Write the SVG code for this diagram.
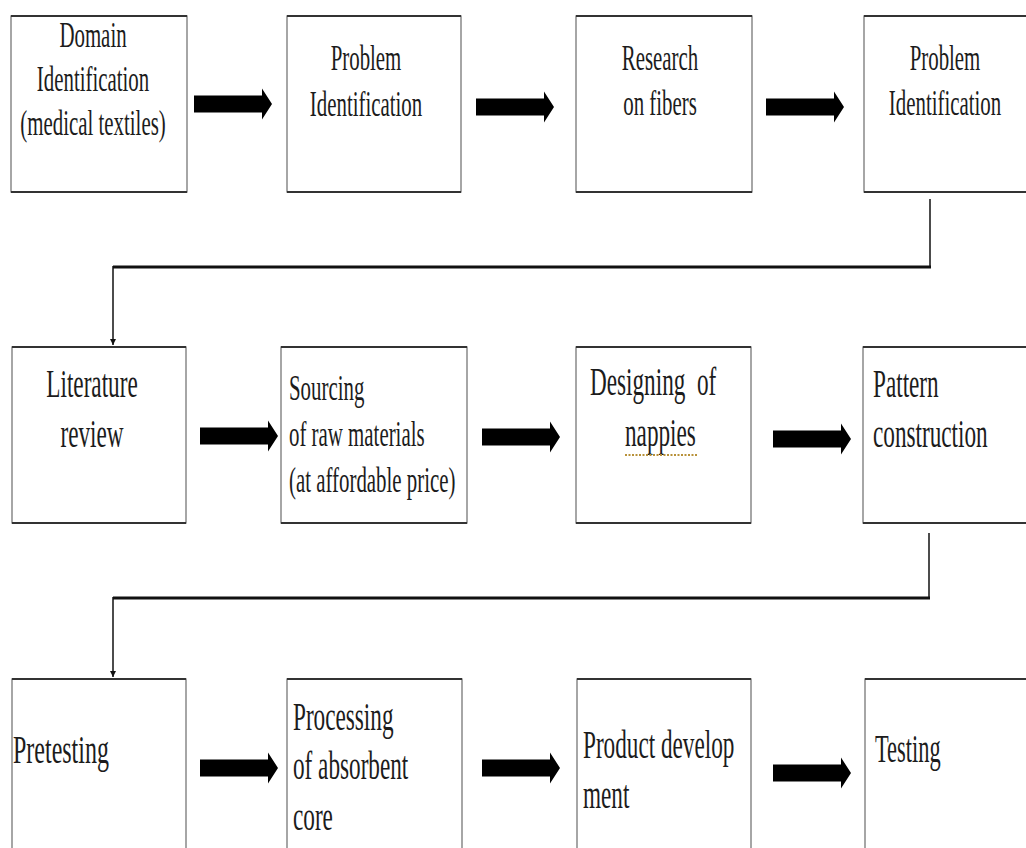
<svg xmlns="http://www.w3.org/2000/svg" width="1026" height="848" viewBox="0 0 1026 848">
<style>
.box{fill:#fff;stroke:#777;stroke-width:1.3}
.edge{stroke:#333;stroke-width:2}
.t{font-family:"Liberation Serif","Times New Roman",serif;fill:#1c1c1c}
.s36{font-size:36px}
.s40{font-size:40px}
.c{text-anchor:middle}
.blk{fill:#000}
.ln{stroke:#111;fill:none}
</style>
<defs>
<path id="blk" d="M0,-8.5 H68 V-15.5 L78,0 L68,15.5 V8.5 H0 Z"/>
<marker id="ah" viewBox="0 0 10 10" refX="10" refY="5" markerWidth="6" markerHeight="9" markerUnits="userSpaceOnUse" orient="auto"><path d="M0,0 L10,5 L0,10 Z" fill="#111"/></marker>
</defs>
<rect width="1026" height="848" fill="#fff"/>

<g id="n1">
<rect class="box" x="11" y="16" width="176" height="176"/>
<line class="edge" x1="11" y1="16" x2="187" y2="16"/><line class="edge" x1="11" y1="192" x2="187" y2="192"/>
<text class="t s36 c" transform="translate(93,0) scale(0.58,1)"><tspan x="0" y="47">Domain</tspan><tspan x="0" y="91">Identification</tspan><tspan x="0" y="135">(medical textiles)</tspan></text>
</g>
<g id="n2">
<rect class="box" x="287" y="16" width="174" height="176"/>
<line class="edge" x1="287" y1="16" x2="461" y2="16"/><line class="edge" x1="287" y1="192" x2="461" y2="192"/>
<text class="t s36 c" transform="translate(366,0) scale(0.58,1)"><tspan x="0" y="70">Problem</tspan><tspan x="0" y="116">Identification</tspan></text>
</g>
<g id="n3">
<rect class="box" x="576" y="16" width="176" height="176"/>
<line class="edge" x1="576" y1="16" x2="752" y2="16"/><line class="edge" x1="576" y1="192" x2="752" y2="192"/>
<text class="t s36 c" transform="translate(660,0) scale(0.58,1)"><tspan x="0" y="70">Research</tspan><tspan x="0" y="115">on fibers</tspan></text>
</g>
<g id="n4">
<rect class="box" x="864" y="16" width="170" height="176"/>
<line class="edge" x1="864" y1="16" x2="1026" y2="16"/><line class="edge" x1="864" y1="192" x2="1026" y2="192"/>
<text class="t s36 c" transform="translate(945,0) scale(0.58,1)"><tspan x="0" y="70">Problem</tspan><tspan x="0" y="115">Identification</tspan></text>
</g>

<g id="n5">
<rect class="box" x="12" y="347" width="174" height="176"/>
<line class="edge" x1="12" y1="347" x2="186" y2="347"/><line class="edge" x1="12" y1="523" x2="186" y2="523"/>
<text class="t s40 c" transform="translate(92,0) scale(0.58,1)"><tspan x="0" y="397">Literature</tspan><tspan x="0" y="447">review</tspan></text>
</g>
<g id="n6">
<rect class="box" x="281" y="347" width="186" height="176"/>
<line class="edge" x1="281" y1="347" x2="467" y2="347"/><line class="edge" x1="281" y1="523" x2="467" y2="523"/>
<text class="t s36" transform="translate(289,0) scale(0.58,1)"><tspan x="0" y="400">Sourcing</tspan><tspan x="0" y="446">of raw materials</tspan><tspan x="0" y="492">(at affordable price)</tspan></text>
</g>
<g id="n7">
<rect class="box" x="576" y="347" width="175" height="176"/>
<line class="edge" x1="576" y1="347" x2="751" y2="347"/><line class="edge" x1="576" y1="523" x2="751" y2="523"/>
<text class="t s40" transform="translate(590,395) scale(0.58,1)" xml:space="preserve">Designing  of</text>
<text class="t s40" transform="translate(625,446) scale(0.58,1)">nappies</text>
<line x1="625" y1="455" x2="698" y2="455" stroke="#b8913a" stroke-width="2" stroke-dasharray="2 1.5"/>
</g>
<g id="n8">
<rect class="box" x="863" y="347" width="171" height="176"/>
<line class="edge" x1="863" y1="347" x2="1026" y2="347"/><line class="edge" x1="863" y1="523" x2="1026" y2="523"/>
<text class="t s40" transform="translate(873,0) scale(0.58,1)"><tspan x="0" y="397">Pattern</tspan><tspan x="0" y="447">construction</tspan></text>
</g>

<g id="n9">
<rect class="box" x="12" y="679" width="174" height="190"/>
<line class="edge" x1="12" y1="679" x2="186" y2="679"/>
<text class="t s40" transform="translate(13,763) scale(0.6,1)">Pretesting</text>
</g>
<g id="n10">
<rect class="box" x="287" y="679" width="175" height="190"/>
<line class="edge" x1="287" y1="679" x2="462" y2="679"/>
<text class="t s40" transform="translate(293,0) scale(0.58,1)"><tspan x="0" y="730">Processing</tspan><tspan x="0" y="779">of absorbent</tspan><tspan x="0" y="830">core</tspan></text>
</g>
<g id="n11">
<rect class="box" x="577" y="679" width="174" height="190"/>
<line class="edge" x1="577" y1="679" x2="751" y2="679"/>
<text class="t s40" transform="translate(583,0) scale(0.58,1)"><tspan x="0" y="758">Product develop</tspan><tspan x="0" y="808">ment</tspan></text>
</g>
<g id="n12">
<rect class="box" x="865" y="679" width="170" height="190"/>
<line class="edge" x1="865" y1="679" x2="1026" y2="679"/>
<text class="t s40" transform="translate(875,762) scale(0.56,1)">Testing</text>
</g>

<g id="connectors">
<use href="#blk" class="blk" transform="translate(194,104)"/>
<use href="#blk" class="blk" transform="translate(476,107)"/>
<use href="#blk" class="blk" transform="translate(766,107)"/>
<use href="#blk" class="blk" transform="translate(200,436)"/>
<use href="#blk" class="blk" transform="translate(482,437)"/>
<use href="#blk" class="blk" transform="translate(773,439)"/>
<use href="#blk" class="blk" transform="translate(200,768)"/>
<use href="#blk" class="blk" transform="translate(482,768)"/>
<use href="#blk" class="blk" transform="translate(773,773)"/>
<line class="ln" x1="930" y1="199" x2="930" y2="268" stroke-width="1.5"/>
<line class="ln" x1="113" y1="267" x2="931" y2="267" stroke-width="3"/>
<line class="ln" x1="113" y1="266" x2="113" y2="345" stroke-width="1.5" marker-end="url(#ah)"/>
<line class="ln" x1="929" y1="533" x2="929" y2="599" stroke-width="1.5"/>
<line class="ln" x1="113" y1="598" x2="930" y2="598" stroke-width="3"/>
<line class="ln" x1="113" y1="597" x2="113" y2="677" stroke-width="1.5" marker-end="url(#ah)"/>
</g>
</svg>
